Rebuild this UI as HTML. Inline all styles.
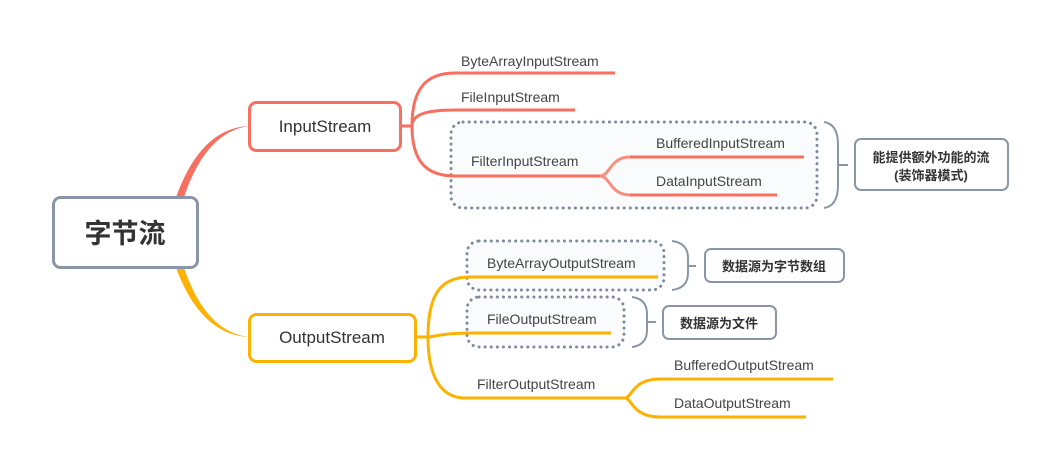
<!DOCTYPE html>
<html><head><meta charset="utf-8"><style>
html,body{margin:0;padding:0;background:#fff;}
svg{display:block;}
text{font-family:"Liberation Sans","Noto Sans CJK SC",sans-serif;}
.c{fill:#444;font-size:14px;}
</style></head><body>
<svg width="1058" height="469" viewBox="0 0 1058 469" xmlns="http://www.w3.org/2000/svg">
<!-- root connectors -->
<path d="M175,200 Q200,128 249,126 Q205,132 183,200 Z" fill="#f76f5e"/>
<path d="M175,265 Q200,335 249,337 Q205,332 183,265 Z" fill="#fbb200"/>

<!-- dotted boxes -->
<rect x="451" y="122" width="366" height="86" rx="12" fill="#fafbfd" stroke="#7f8a9c" stroke-width="3" stroke-dasharray="0.1 6" stroke-linecap="round"/>
<rect x="467" y="241" width="197" height="49" rx="12" fill="#fafbfd" stroke="#7f8a9c" stroke-width="3" stroke-dasharray="0.1 6" stroke-linecap="round"/>
<rect x="467" y="297" width="157" height="50" rx="12" fill="#fafbfd" stroke="#7f8a9c" stroke-width="3" stroke-dasharray="0.1 6" stroke-linecap="round"/>

<!-- input branches -->
<g fill="none" stroke="#f76f5e" stroke-width="3">
<path d="M400,126 H412"/>
<path d="M412,126 C412,90 425,73 455,73 H615"/>
<path d="M412,126 C412,115 425,110 455,110 H575"/>
<path d="M412,126 C412,160 425,176 455,176 H600"/>
<path d="M600,176 C610,176 610,157 630,157 H804" stroke="#f9907f"/>
<path d="M600,176 C610,176 610,195 630,195 H777" stroke="#f9907f"/>
<path d="M630,157 H804 M630,195 H777"/>
</g>
<!-- output branches -->
<g fill="none" stroke="#fbb200" stroke-width="3">
<path d="M416,337 H428"/>
<path d="M428,337 C428,295 440,277 470,277 H658"/>
<path d="M428,337 C428,338 440,333 470,333 H611"/>
<path d="M428,337 C428,375 440,398 465,398 H625"/>
<path d="M625,398 C632,398 632,379 660,379 H833"/>
<path d="M625,398 C632,398 632,417 660,417 H806"/>
</g>

<!-- boxes -->
<rect x="53.5" y="197.5" width="144" height="70" rx="7" fill="#fff" stroke="#8a96a8" stroke-width="3"/>
<text x="125" y="243" text-anchor="middle" font-size="27" font-weight="bold" fill="#333">字节流</text>
<rect x="249.5" y="102.5" width="151" height="48" rx="7" fill="#fff" stroke="#f76f5e" stroke-width="3"/>
<text x="325" y="132" text-anchor="middle" font-size="17" fill="#333">InputStream</text>
<rect x="249.5" y="314.5" width="166" height="47" rx="7" fill="#fff" stroke="#fbb200" stroke-width="3"/>
<text x="332" y="343" text-anchor="middle" font-size="17" fill="#333">OutputStream</text>

<!-- child labels -->
<text class="c" x="461" y="66">ByteArrayInputStream</text>
<text class="c" x="461" y="102">FileInputStream</text>
<text class="c" x="471" y="166">FilterInputStream</text>
<text class="c" x="656" y="148">BufferedInputStream</text>
<text class="c" x="656" y="186">DataInputStream</text>
<text class="c" x="487" y="268">ByteArrayOutputStream</text>
<text class="c" x="487" y="324">FileOutputStream</text>
<text class="c" x="477" y="389">FilterOutputStream</text>
<text class="c" x="674" y="370">BufferedOutputStream</text>
<text class="c" x="674" y="408">DataOutputStream</text>

<!-- braces -->
<g fill="none" stroke="#8a96a8" stroke-width="2">
<path d="M824,122 Q838,124 838,145 V185 Q838,206 824,208 M838,165 H848"/>
<path d="M672,241 Q688,243 688,258 V273 Q688,288 672,290 M688,266 H696"/>
<path d="M632,297 Q647,299 647,314 V330 Q647,345 632,347 M647,322 H656"/>
</g>
<rect x="855" y="139" width="153" height="51" rx="6" fill="#fff" stroke="#8a96a8" stroke-width="2"/>
<text x="931" y="162" text-anchor="middle" font-size="13" font-weight="bold" fill="#333">能提供额外功能的流</text>
<text x="931" y="180" text-anchor="middle" font-size="13" font-weight="bold" fill="#333">(装饰器模式)</text>
<rect x="705" y="249" width="139" height="33" rx="6" fill="#fff" stroke="#8a96a8" stroke-width="2"/>
<text x="774" y="271" text-anchor="middle" font-size="13" font-weight="bold" fill="#333">数据源为字节数组</text>
<rect x="663" y="306" width="113" height="33" rx="6" fill="#fff" stroke="#8a96a8" stroke-width="2"/>
<text x="719" y="328" text-anchor="middle" font-size="13" font-weight="bold" fill="#333">数据源为文件</text>
</svg>
</body></html>
